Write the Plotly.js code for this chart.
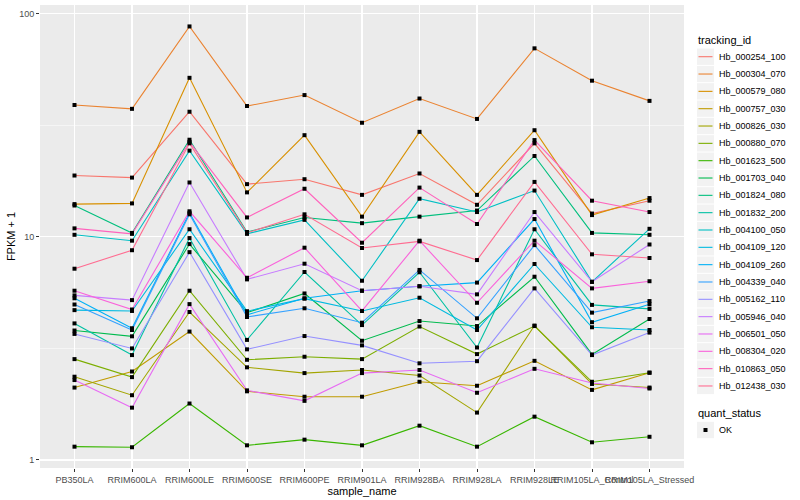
<!DOCTYPE html>
<html>
<head>
<meta charset="utf-8">
<script src="https://cdn.plot.ly/plotly-3.0.1.min.js"></script>
<style>html,body{margin:0;padding:0;background:#fff;}#chart{width:800px;height:500px;}</style>
</head>
<body>
<div id="chart"></div>
<script>
const samples = ["PB350LA","RRIM600LA","RRIM600LE","RRIM600SE","RRIM600PE","RRIM901LA","RRIM928BA","RRIM928LA","RRIM928LE","RRIM105LA_Control","RRIM105LA_Stressed"];

const hb_000254_100 = [18.8, 18.4, 36.3, 17.2, 18.1, 15.4, 19.2, 13.9, 26.2, 12.7, 14.5];
const hb_000304_070 = [38.9, 37.4, 87.5, 38.5, 43.1, 32.4, 41.6, 33.7, 69.8, 50.0, 40.6];
const hb_000579_080 = [14.0, 14.1, 51.5, 15.8, 28.5, 12.3, 29.5, 15.4, 30.0, 12.5, 14.9];
const hb_000757_030 = [2.11, 2.49, 3.76, 2.03, 1.92, 1.92, 2.24, 2.15, 2.78, 2.06, 2.46];
const hb_000826_030 = [2.36, 1.95, 4.60, 2.60, 2.45, 2.53, 2.39, 1.63, 4.00, 2.19, 2.11];
const hb_000880_070 = [2.83, 2.35, 5.73, 2.81, 2.90, 2.83, 3.96, 2.98, 3.98, 2.24, 2.46];
const hb_001623_500 = [1.147, 1.14, 1.79, 1.163, 1.233, 1.163, 1.424, 1.147, 1.563, 1.20, 1.27];
const hb_001703_040 = [3.80, 3.58, 9.27, 4.57, 5.57, 3.42, 4.19, 3.98, 6.62, 2.97, 4.28];
const hb_001824_080 = [13.8, 10.4, 27.2, 10.5, 12.2, 11.5, 12.3, 13.1, 23.0, 10.4, 10.2];
const hb_001832_200 = [4.09, 2.95, 9.86, 3.45, 6.95, 4.02, 6.93, 3.19, 10.8, 4.95, 4.75];
const hb_004100_050 = [10.2, 9.6, 24.3, 10.3, 11.9, 6.35, 14.8, 12.9, 16.1, 6.28, 10.85];
const hb_004109_120 = [4.69, 4.65, 10.8, 4.64, 5.28, 4.65, 5.33, 3.82, 7.55, 3.93, 3.82];
const hb_004109_260 = [5.30, 3.89, 12.8, 4.47, 5.30, 5.73, 6.00, 6.23, 12.0, 4.14, 4.98];
const hb_004339_040 = [4.97, 3.82, 12.6, 4.37, 4.78, 4.12, 7.10, 4.31, 9.17, 4.57, 5.15];
const hb_005162_110 = [3.67, 3.16, 8.53, 3.13, 3.59, 3.26, 2.71, 2.77, 5.87, 2.95, 3.72];
const hb_005946_040 = [5.46, 5.20, 17.5, 6.44, 7.57, 5.73, 6.00, 5.52, 12.9, 6.28, 9.23];
const hb_006501_050 = [2.28, 1.715, 4.99, 2.05, 1.84, 2.45, 2.53, 2.00, 2.56, 2.21, 2.09];
const hb_008304_020 = [5.73, 4.72, 13.0, 6.55, 8.93, 4.65, 9.60, 5.06, 9.60, 5.87, 6.32];
const hb_010863_050 = [10.9, 10.3, 26.6, 12.2, 16.4, 9.4, 16.6, 11.4, 27.1, 14.5, 12.9];
const hb_012438_030 = [7.19, 8.70, 26.2, 10.4, 12.6, 8.9, 9.53, 7.86, 17.6, 8.34, 8.03];

const trackingIds = ["Hb_000254_100","Hb_000304_070","Hb_000579_080","Hb_000757_030","Hb_000826_030","Hb_000880_070","Hb_001623_500","Hb_001703_040","Hb_001824_080","Hb_001832_200","Hb_004100_050","Hb_004109_120","Hb_004109_260","Hb_004339_040","Hb_005162_110","Hb_005946_040","Hb_006501_050","Hb_008304_020","Hb_010863_050","Hb_012438_030"];
const seriesValues = [hb_000254_100, hb_000304_070, hb_000579_080, hb_000757_030, hb_000826_030, hb_000880_070, hb_001623_500, hb_001703_040, hb_001824_080, hb_001832_200, hb_004100_050, hb_004109_120, hb_004109_260, hb_004339_040, hb_005162_110, hb_005946_040, hb_006501_050, hb_008304_020, hb_010863_050, hb_012438_030];
const colors = ["#F8766D","#EA8331","#D89000","#C09B00","#A3A500","#7CAE00","#39B600","#00BB4E","#00BF7D","#00C1A3","#00BFC4","#00BAE0","#00B0F6","#35A2FF","#9590FF","#C77CFF","#E76BF3","#FA62DB","#FF62BC","#FF6C91"];
const statusLabel = "OK";

const FONT = "Liberation Sans, Arial, Helvetica, sans-serif";
const W = 800, H = 500;
const M = {l: 40, r: 116, t: 5, b: 32};
const PW = W - M.l - M.r, PH = H - M.t - M.b;
const xp = p => (p - M.l) / PW;
const yp = p => (H - M.b - p) / PH;

const traces = [];
trackingIds.forEach((id, i) => {
  traces.push({
    type: "scatter", mode: "lines", name: id,
    x: samples, y: seriesValues[i],
    line: {color: colors[i], width: 1.1},
    showlegend: false
  });
});
const px = [], py = [];
seriesValues.forEach(vals => vals.forEach((v, j) => { px.push(samples[j]); py.push(v); }));
traces.push({
  type: "scatter", mode: "markers", name: statusLabel,
  x: px, y: py,
  marker: {symbol: "square", size: 4, color: "#000000"},
  showlegend: false
});

// custom ggplot-like legend
const shapes = [], annotations = [];
const keyX0 = 697, keyX1 = 714, keyH = 17.33, firstY = 56.7, labelX = 716.5;
annotations.push({xref: "paper", yref: "paper", x: xp(695.5), y: yp(40.5), xanchor: "left", yanchor: "middle",
  text: "tracking_id", showarrow: false, font: {family: FONT, size: 11, color: "#000"}});
trackingIds.forEach((id, i) => {
  const cy = firstY + i * keyH;
  shapes.push({type: "rect", xref: "paper", yref: "paper", x0: xp(keyX0), x1: xp(keyX1),
    y0: yp(cy - keyH / 2 + 0.5), y1: yp(cy + keyH / 2 - 0.5), fillcolor: "#F2F2F2", line: {width: 0}});
  shapes.push({type: "line", xref: "paper", yref: "paper", x0: xp(keyX0 + 1.5), x1: xp(keyX1 - 1.5),
    y0: yp(cy), y1: yp(cy), line: {color: colors[i], width: 1.1}});
  annotations.push({xref: "paper", yref: "paper", x: xp(labelX), y: yp(cy), xanchor: "left", yanchor: "middle",
    text: id, showarrow: false, font: {family: FONT, size: 9, color: "#000"}});
});
annotations.push({xref: "paper", yref: "paper", x: xp(695.5), y: yp(412.5), xanchor: "left", yanchor: "middle",
  text: "quant_status", showarrow: false, font: {family: FONT, size: 11, color: "#000"}});
const okY = 430;
shapes.push({type: "rect", xref: "paper", yref: "paper", x0: xp(keyX0), x1: xp(keyX1),
  y0: yp(okY - keyH / 2 + 0.5), y1: yp(okY + keyH / 2 - 0.5), fillcolor: "#F2F2F2", line: {width: 0}});
shapes.push({type: "rect", xref: "paper", yref: "paper", x0: xp(703.5), x1: xp(707.5),
  y0: yp(okY - 2), y1: yp(okY + 2), fillcolor: "#000000", line: {width: 0}});
annotations.push({xref: "paper", yref: "paper", x: xp(labelX), y: yp(okY), xanchor: "left", yanchor: "middle",
  text: statusLabel, showarrow: false, font: {family: FONT, size: 9, color: "#000"}});

const layout = {
  width: W, height: H,
  margin: M,
  paper_bgcolor: "#FFFFFF",
  plot_bgcolor: "#EBEBEB",
  font: {family: FONT, size: 9, color: "#000000"},
  showlegend: false,
  xaxis: {
    type: "category",
    range: [-0.6, 10.6],
    tickangle: 0,
    showgrid: true, gridcolor: "#FFFFFF", gridwidth: 1.1,
    zeroline: false, showline: false,
    ticks: "outside", ticklen: 3, tickcolor: "#333333", tickwidth: 1,
    tickfont: {family: FONT, size: 9, color: "#4D4D4D"},
    title: {text: "sample_name", font: {family: FONT, size: 11, color: "#000000"}, standoff: 0},
    automargin: false
  },
  yaxis: {
    type: "log",
    range: [-0.036, 2.038],
    tickvals: [1, 10, 100], ticktext: ["1", "10", "100"],
    showgrid: true, gridcolor: "#FFFFFF", gridwidth: 1.1,
    minor: {tickvals: [3.1623, 31.623], showgrid: true, gridcolor: "#FFFFFF", gridwidth: 0.5, ticks: ""},
    zeroline: false, showline: false,
    ticks: "outside", ticklen: 3, tickcolor: "#333333", tickwidth: 1,
    tickfont: {family: FONT, size: 9, color: "#4D4D4D"},
    title: {text: "FPKM + 1", font: {family: FONT, size: 11, color: "#000000"}, standoff: 1},
    automargin: false
  },
  shapes: shapes,
  annotations: annotations
};

Plotly.newPlot("chart", traces, layout, {displayModeBar: false, staticPlot: true});
</script>
</body>
</html>
